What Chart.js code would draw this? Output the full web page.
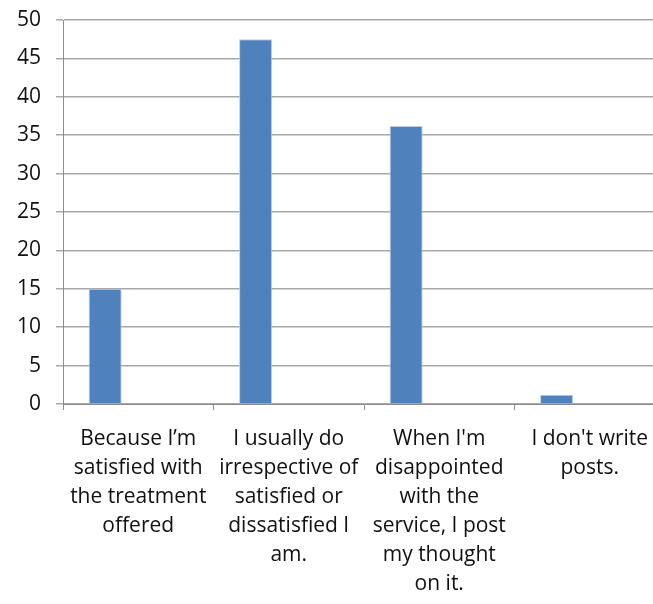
<!DOCTYPE html>
<html>
<head>
<meta charset="utf-8">
<script src="https://cdn.jsdelivr.net/npm/chart.js@4"></script>
<style>
	html, body { margin: 0; padding: 0; background: #fff; overflow: hidden; }
	#wrap { position: absolute; left: 0; top: 0; width: 680px; height: 604px; }
</style>
</head>
<body>
<div id="wrap"><canvas id="reasonsChart" width="680" height="604"></canvas></div>
<script>
// подписи категорий (перенос строк как на картинке)
const categories = [
	["Because I\u2019m", "satisfied with", "the treatment", "offered"],
	["I usually do", "irrespective of", "satisfied or", "dissatisfied I", "am."],
	["When I'm", "disappointed", "with the", "service, I post", "my thought", "on it."],
	["I don't write", "posts."],
];
const seriesValues = [15, 47.5, 36.2, 1.2];
// пустые серии, которые в оригинале занимают место рядом со столбцом
const emptySeries = [null, null, null, null];
const yTicks = [0, 5, 10, 15, 20, 25, 30, 35, 40, 45, 50];

const ctx = document.getElementById("reasonsChart");

const data = {
	labels: categories,
	datasets: [
		{
			data: seriesValues,
			backgroundColor: "#4f81bd",
			borderColor: "#bcd0ea",
			borderWidth: 1,
			categoryPercentage: 0.66,
			barPercentage: 1,
		},
		{ data: emptySeries, categoryPercentage: 0.66, barPercentage: 1 },
		{ data: emptySeries, categoryPercentage: 0.66, barPercentage: 1 },
	],
};

const config = {
	type: "bar",
	data: data,
	options: {
		responsive: false,
		animation: false,
		layout: {
			padding: { top: 20, right: 15, left: 0, bottom: 0 },
		},
		scales: {
			x: {
				grid: {
					offset: true,
					drawOnChartArea: false,
					drawTicks: true,
					tickLength: 6,
					color: "#8c8c8c",
				},
				border: { color: "#8c8c8c", width: 1 },
				ticks: {
					autoSkip: false,
					maxRotation: 0,
					minRotation: 0,
					padding: 15,
					color: "#111",
					font: { family: "Open Sans", size: 21, lineHeight: 1.38 },
				},
				afterFit(scale) {
					scale.height = 200;
					scale.paddingLeft = 0;
					scale.paddingRight = 0;
				},
			},
			y: {
				min: 0,
				max: 50,
				afterBuildTicks(scale) {
					scale.ticks = yTicks.map((v) => ({ value: v }));
				},
				grid: {
					color: "#a8a8a8",
					lineWidth: 1.5,
					tickLength: 7,
				},
				border: { color: "#8c8c8c", width: 1 },
				ticks: {
					padding: 15,
					color: "#111",
					font: { family: "Open Sans", size: 21 },
				},
				afterFit(scale) {
					scale.width = 63;
					scale.paddingTop = 0;
					scale.paddingBottom = 0;
				},
			},
		},
		plugins: {
			legend: false,
			tooltip: { enabled: false },
		},
		hover: { mode: null },
	},
};

const reasonsChart = new Chart(ctx, config);
</script>
</body>
</html>
